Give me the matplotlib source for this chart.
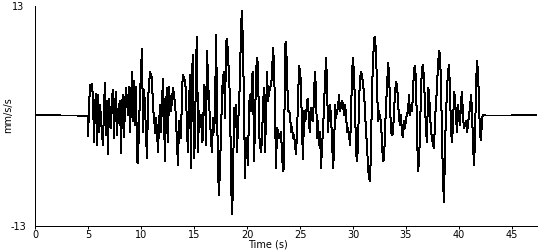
import numpy as np
import matplotlib
matplotlib.use("Agg")
import matplotlib.pyplot as plt

# quiet part before and after the record (time s, mm/s/s)
pre_t = [0.0, 2.3, 2.3, 4.0, 4.0, 4.95]
pre_acc = [0.05, 0.05, 0.0, 0.0, -0.05, -0.05]
post_t = [42.5, 45.0, 45.0, 47.35]
post_acc = [0.0, 0.0, 0.05, 0.05]

# strong-motion part
rec_start = 4.986   # s
rec_dt = 0.0944     # s between samples
rec_acc = [
    -2.4, 0.9, 3.6, 3.6, 3.7, 2.0, -3.1, 1.3, 2.5, -3.5,
    2.4, -1.9, 1.3, -0.3, -2.3, -3.5, 1.3, 3.8, -2.3, 1.7,
    -4.6, 2.0, 0.1, -1.5, 2.2, 3.0, -2.7, 1.3, 2.8, -2.3,
    0.5, 1.1, 1.7, -4.4, 1.5, 2.4, -2.5, 1.3, 3.2, 1.7,
    0.1, 3.4, -1.9, 1.7, 5.2, -0.7, 4.1, -1.1, 3.4, -5.4,
    -5.6, -0.9, 2.4, 5.4, 7.9, -1.9, 3.0, 1.3, -2.5, -5.0,
    1.9, 3.6, 5.2, 4.6, 4.6, 0.5, 0.1, -2.1, -0.3, -1.9,
    -4.3, -1.1, 1.3, -1.9, 1.7, 4.3, -0.7, -5.4, 1.3, 3.2,
    -3.1, 3.4, 1.3, 0.5, 2.0, 3.2, 2.4, 1.3, -0.3, -3.5,
    -5.8, -0.7, -1.9, -2.7, 3.2, 4.8, 4.4,
    # ~14 s
    4.0, 2.8, -1.9, -4.3, 1.3, 4.8, -6.2, 5.2, 7.2, -5.0,
    -2.7, 6.4, 9.3, -4.3, 0.5, -1.1, 0.1, -3.1, -2.7, 3.6,
    3.2, -3.5, 7.6, 4.4, 1.3, -0.3, -3.1, -4.3, -0.3, -1.9,
    0.1, 9.5, 1.7, -6.6, -9.4, -5.8, -2.3, 2.8, 4.4, 5.2,
    -0.3, 8.7, 9.1, 7.2, 4.4, 2.0, -7.4, -11.7, -8.2, 0.9,
    0.1, 1.3, -4.3, -1.1, 1.3, 4.4, 10.7, 12.3, 7.6, 1.3,
    -7.4, -2.7, -3.5, -5.8, 1.3, 2.4, 0.5, 4.8, 5.2, -5.4,
    -1.1, 5.2, 6.8, 6.0, -1.9, -3.5, -4.3, -2.7, 1.3, 3.2,
    -4.3, 0.1, 5.2, 1.7, 2.8, 3.2, 3.6, 4.8, 8.0, 6.0,
    0.5, -6.2, -1.5, -1.9, -2.7, -2.3, -1.9, -4.6, -6.6, -6.2,
    # ~23.5 s
    8.3, 8.7, 5.2, 0.5, 0.5, 0.1, -1.9, -1.3, -2.7, -2.3,
    -3.5, -4.6, -1.9, 1.7, 5.8, 5.2, 3.6, -1.9, -5.2, 0.5,
    -0.7, -0.3, 1.7, 2.0, -1.1, -1.9, 0.9, 0.1, -0.7, 2.8,
    5.2, 2.8, -2.7, -0.7, -3.5, -1.9, -6.2, -3.5, -1.9, 1.3,
    4.0, 6.8, 4.0, -1.9, 0.5, 1.3, -0.3, -2.7, -6.2, -4.3,
    1.3, -0.3, 0.5, 0.9, 2.4, 0.5, 1.3, 1.7, 1.3, 0.1,
    1.3, 0.1, -1.9, -1.5, -2.3, -3.5, -0.3, 5.2, 6.8, 4.8,
    1.3, -4.3, -5.4, -3.5, 1.7, 4.4, 5.2, 4.8, 3.6, 2.8,
    0.5, -1.9, -3.5, -6.2, -7.4, -7.8, -3.9, 3.2, 6.0, 9.1,
    9.3, 7.2, 3.6, -0.7, 0.5, -0.3, -0.7, -3.5, -5.4,
    # ~33 s
    -5.2, -1.9, 1.3, 3.2, 6.2, 5.2, 1.3, -1.9, -2.3, -2.1,
    0.5, 2.6, 4.0, 3.6, 1.7, -0.3, -1.1, 0.1, -2.3, -2.5,
    -0.7, -1.5, -0.3, 0.1, 0.5, 2.4, 0.1, 1.3, 0.5, 2.8,
    5.6, 5.8, 4.0, -1.9, -6.6, -5.4, -1.9, 3.2, 5.6, 6.0,
    4.0, 1.3, -1.9, -3.1, 3.2, 2.8, 0.1, -1.9, -2.7, -3.5,
    -3.9, -0.3, 1.3, 3.6, 6.0, 7.6, 7.2, 3.6, -2.7, -7.8,
    -10.2, -3.5, 0.1, 3.2, 5.2, 6.0, 2.8, -1.9, -3.1, -1.1,
    2.8, 2.0, -0.3, -1.9, 1.3, -0.3, -1.1, 1.7, 2.8, -0.3,
    -1.5, -1.1, -0.7, -1.9, -1.1, 0.1, 0.9, 2.4, 0.5, -3.5,
    -5.8, -2.7, 3.6, 6.4, 5.2, 1.3, -2.3, -2.9, -0.3, 0.0, 0.1,
]

rec_t = rec_start + rec_dt * np.arange(len(rec_acc))
t = np.concatenate([pre_t, rec_t, post_t])
acc = np.concatenate([pre_acc, rec_acc, post_acc])

plt.rcParams['font.family'] = 'DejaVu Sans'
plt.rcParams['font.size'] = 7

fig = plt.figure(figsize=(5.5, 2.5), dpi=100)
ax = fig.add_axes([0.064, 0.098, 0.912, 0.880])
ax.plot(t, acc, color="black", linewidth=0.72, antialiased=False)

ax.set_xlim(0, 47.35)
ax.set_ylim(-13, 13)
ax.set_xticks(np.arange(0, 46, 5))
ax.set_yticks([-13, 13])
ax.set_yticklabels(["-13", "13"], ha="center")
ax.tick_params(axis="x", length=2.5, width=0.72, pad=0.5, direction="out")
ax.tick_params(axis="y", length=0, pad=12)
for s in ("top", "right"):
    ax.spines[s].set_visible(False)
for s in ("left", "bottom"):
    ax.spines[s].set_linewidth(0.72)

ax.set_xlabel("Time (s)")
ax.xaxis.set_label_coords(0.464, -0.064)
ax.set_ylabel("mm/s/s")
ax.yaxis.set_label_coords(-0.045, 0.5)

fig.savefig("out.png", dpi=100)
